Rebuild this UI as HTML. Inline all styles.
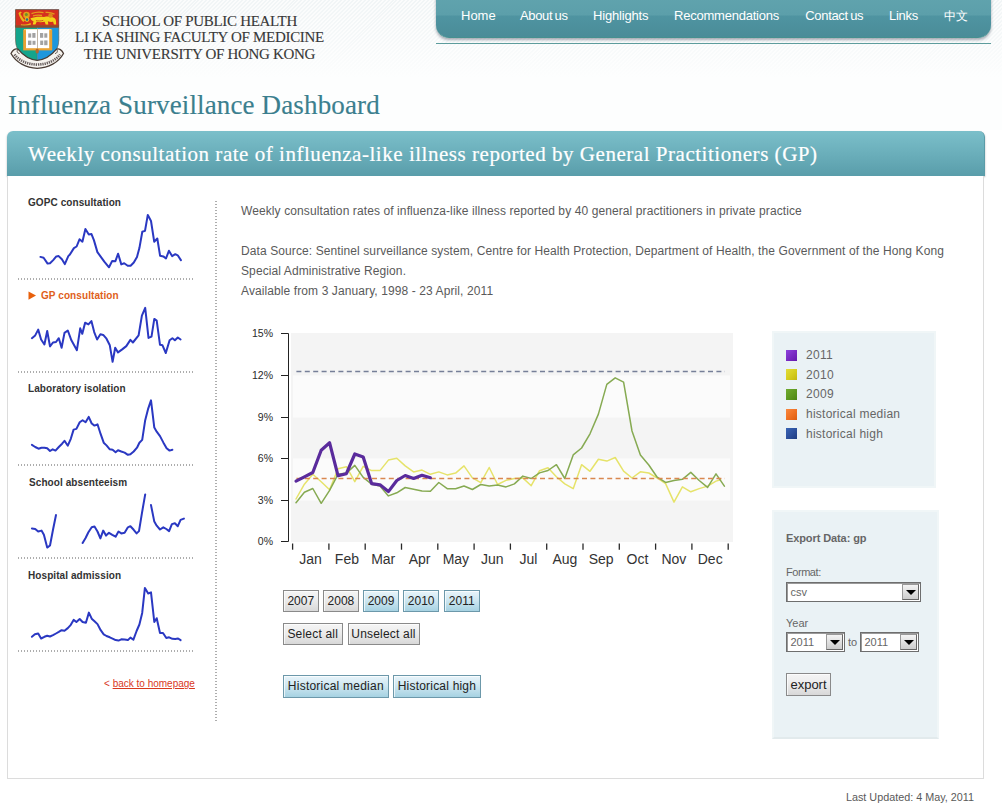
<!DOCTYPE html>
<html>
<head>
<meta charset="utf-8">
<title>Influenza Surveillance Dashboard</title>
<style>
*{box-sizing:border-box;margin:0;padding:0}
html,body{width:1002px;height:810px;overflow:hidden;background:#fff;font-family:"Liberation Sans",sans-serif;}
body{position:relative;}
.abs{position:absolute;white-space:nowrap;}
#bg{left:0;top:0;width:1002px;height:130px;background:
 linear-gradient(to bottom,rgba(255,255,255,0) 0,rgba(255,255,255,.35) 40px,rgba(253,254,254,1) 78px),
 repeating-linear-gradient(135deg,#f1f5f6 0,#f1f5f6 1.4px,#fbfcfc 1.4px,#fbfcfc 2.8px);}
.hdr{left:49.5px;width:300px;text-align:center;font-family:"Liberation Serif",serif;font-size:15px;color:#383838;line-height:17px;letter-spacing:-0.3px;-webkit-text-stroke:.12px #383838;}
#nav{left:436px;top:-10px;width:555px;height:48px;border-radius:0 0 13px 13px;
 background:linear-gradient(to bottom,#62a5af 0,#5c9faa 25px,#4f94a1 26px,#4a8c98 100%);
 box-shadow:0 2px 3px rgba(60,70,90,.45);border-bottom:1px solid #45908f;}
#navline{left:436px;top:43px;width:555px;height:1px;background:#5d9c9c;}
.nv{top:8px;font-size:13px;color:#fff;line-height:16px;}
#title{left:8px;top:88px;font-family:"Liberation Serif",serif;font-size:27px;color:#3b7f8e;line-height:34px;letter-spacing:.14px;-webkit-text-stroke:.15px #3b7f8e;}
#banner{left:7px;top:131px;width:977.5px;height:45.3px;border-radius:6px 6px 0 0;
 background:linear-gradient(to bottom,#7bbfca 0,#69adb9 55%,#599daa 100%);box-shadow:0 1px 2px rgba(0,0,0,.3);border-right:1px solid #5b9ca8;}
#banner span{position:absolute;left:21px;top:11px;font-family:"Liberation Serif",serif;font-size:21px;color:#fff;line-height:24px;white-space:nowrap;letter-spacing:.53px;-webkit-text-stroke:.2px #fff;}
#box{left:7px;top:176px;width:977px;height:602.5px;border:1px solid #dcdcdc;border-top:none;background:#fff;}
.sl{left:28px;font-size:10px;font-weight:bold;color:#333;line-height:12px;letter-spacing:.08px;margin-top:.4px}
.dot{left:18px;width:176px;height:2px;background:repeating-linear-gradient(to right,#adadad 0,#adadad 1px,transparent 1px,transparent 3px);}
#vdot{left:215px;top:201px;width:2px;height:520px;background:repeating-linear-gradient(to bottom,#adadad 0,#adadad 1px,transparent 1px,transparent 3px);}
.tx{left:241px;font-size:12px;color:#5a5a5a;line-height:20px;letter-spacing:.1px;}
.panel{background:#eaf2f5;border:2px solid #f0f6f7;}
.lg{left:806px;font-size:12px;color:#666;line-height:14px;}
.sw{left:786px;width:11px;height:11px;}
.btn{font-size:12px;color:#222;height:22px;line-height:20px;border:1px solid #8a8a8a;text-align:center;
 background:linear-gradient(to bottom,#f5f5f5 0,#ececec 45%,#d8d8d8 100%);box-shadow:inset 1px 1px 0 rgba(255,255,255,.7);}
.btn.on{background:linear-gradient(to bottom,#e8f4fa 0,#cfe7f1 45%,#a6d2e2 100%);border-color:#6c98aa;}
.ex{left:786px;font-size:11px;color:#666;line-height:13px;}
.sel{background:#fff;border:1px solid #6e6e6e;box-shadow:inset 1px 1px 0 #9a9a9a;font-size:11px;color:#666;line-height:18px;padding-left:3.5px;height:20px;}
.sel i{position:absolute;right:1px;top:1px;width:17px;height:16px;border:1px solid #666;border-left-color:#999;border-top-color:#999;background:linear-gradient(to bottom,#f4f4f4,#cdcdcd);}
.sel i:after{content:"";position:absolute;left:3px;top:5px;border-left:5px solid transparent;border-right:5px solid transparent;border-top:5px solid #000;}
</style>
</head>
<body>
<div id="bg" class="abs"></div>
<svg class="abs" style="left:5px;top:2px" width="65" height="72" viewBox="5 2 65 72">
<defs><clipPath id="shc"><path d="M15.5 9.6H58.8V40C58.8 52 50 59.5 37.2 64.2C24.4 59.5 15.5 52 15.5 40Z"/></clipPath></defs>
<g clip-path="url(#shc)">
<rect x="15" y="9" width="22.2" height="56" fill="#14a58c"/>
<rect x="37.2" y="9" width="22" height="56" fill="#1d97dd"/>
<rect x="15" y="9" width="44" height="18.3" fill="#d5301f"/>
<rect x="15" y="26.3" width="44" height="1.4" fill="#8a4a2a" opacity=".7"/>
<!-- lion -->
<path d="M18.500 13.500c.6-1.800 2.400-2.300 3.600-1.200c-.9.300-1.500 1-1.600 2c1.500 2 2.300 4.200 4.500 6.300l-1.800 1.400c-2.200-2.200-3.600-5-4.700-8.500z" fill="#e9b91c"/>
<circle cx="26.500" cy="15" r="3.300" fill="#e0a21a"/>
<circle cx="26.300" cy="14.600" r="1.500" fill="#6f8f2a"/>
<circle cx="27" cy="19.600" r="2.300" fill="#e8c21e"/>
<circle cx="27" cy="19.600" r="1.300" fill="#25708a"/>
<path d="M30.500 18.300c4-1.700 9-2 13.500-1.300c3.500-.8 7-.6 10 .7c1.400.7 2 2 2 3.800l.2 3h-2.300l-.8-2.700c-2 .3-3.700.1-5.200-.5l.4 3.200h-2.600l-1-2.800c-2.600.6-5.400.6-8 0l-1.300 2.800h-2.600l.7-3.300c-1.500-.5-2.800-1.500-3-2.900z" fill="#f3d31a"/>
<path d="M21 24.300c3 .6 6.500.2 9.500-1.300l.6 1.500c-3.300 1.400-7 1.800-10.300 1z" fill="#e9b91c"/>
<path d="M31.500 13.700c3.500-1.500 8-1.800 12-1.100M45.500 12.400c3.200-.3 6.400.3 9 1.700M33 15.800c3-.7 6-.8 9-.3" stroke="#e39a1c" stroke-width="1.300" fill="none"/>
<path d="M50.500 13.200a2.300 2.300 0 1 0 .1 0z" fill="#dc8a1c"/>
<path d="M36 20.600c2.500.6 5 .5 7.300-.3" stroke="#c8521c" stroke-width=".9" fill="none"/>
<rect x="15" y="25" width="44" height="2.400" fill="#7a5a2c" opacity=".55"/>
</g>
<path d="M15.500 9.600H58.800V40C58.800 52 50 59.500 37.200 64.200C24.400 59.500 15.500 52 15.500 40Z" fill="none" stroke="#5a4a3a" stroke-width=".7" opacity=".75"/>
<!-- book -->
<rect x="23.200" y="29.600" width="29" height="20.800" fill="#e9a233"/>
<rect x="24" y="29" width="27.400" height="1.200" fill="#f4c870"/>
<rect x="26" y="29.400" width="11.400" height="18.800" fill="#fff"/>
<rect x="37.800" y="29.400" width="11.400" height="18.800" fill="#fff"/>
<rect x="37.300" y="29.400" width=".7" height="19" fill="#a9a9a9"/>
<g fill="#666" opacity=".6">
<rect x="28.200" y="33.400" width="3" height="4.200"/><rect x="32.300" y="33" width="3.200" height="4.800"/>
<rect x="28" y="40.600" width="3.400" height="4.400"/><rect x="32.500" y="40.800" width="3" height="4"/>
<rect x="40" y="33" width="3.200" height="4.800"/><rect x="44.300" y="33.300" width="3" height="4.400"/>
<rect x="40.200" y="40.600" width="3" height="4.400"/><rect x="44.200" y="40.400" width="3.300" height="4.800"/>
</g>
<ellipse cx="37.200" cy="51" rx="1.700" ry="2.600" fill="#b5682a"/>
<rect x="36.900" y="53" width=".7" height="9" fill="#66584a" opacity=".6"/>
<!-- scroll -->
<path d="M11 53.500C12.500 50 15.500 48 18 49.200C24 56.500 31 60 37.200 60.300C43.500 60 50.500 56.500 56.500 49.200C59 48 62 50 63.500 53.500C58.500 62.500 48.500 68 37.200 68.300C26 68 16 62.500 11 53.500Z" fill="#f6f3ee" stroke="#4a3c34" stroke-width="1.300"/>
<path d="M14.500 54.500C19.500 61 27.500 64.300 37.200 64.600C47 64.300 55 61 60 54.500" fill="none" stroke="#4a4040" stroke-width="2.600" stroke-dasharray="1.300 .9" opacity=".85"/>
<path d="M18 49.200C16.500 51 17 53 19.500 53.600M56.500 49.200C58 51 57.500 53 55 53.600" fill="none" stroke="#4a3c34" stroke-width=".9"/>
</svg>

<div class="abs hdr" style="top:13px">SCHOOL OF PUBLIC HEALTH</div>
<div class="abs hdr" style="top:29.3px">LI KA SHING FACULTY OF MEDICINE</div>
<div class="abs hdr" style="top:46px">THE UNIVERSITY OF HONG KONG</div>

<div id="nav" class="abs"></div>
<div id="navline" class="abs"></div>
<div class="abs nv" style="left:461px">Home</div>
<div class="abs nv" style="left:520px;letter-spacing:-.35px;word-spacing:-.9px">About us</div>
<div class="abs nv" style="left:593px;letter-spacing:-.17px">Highlights</div>
<div class="abs nv" style="left:674px;letter-spacing:-.22px">Recommendations</div>
<div class="abs nv" style="left:805.3px;letter-spacing:-.33px;word-spacing:-.9px">Contact us</div>
<div class="abs nv" style="left:889px;letter-spacing:-.25px">Links</div>
<div class="abs nv" style="left:944.3px;font-size:12px;letter-spacing:-.6px;top:7.5px">中文</div>

<div id="title" class="abs">Influenza Surveillance Dashboard</div>
<div id="banner" class="abs"><span>Weekly consultation rate of influenza-like illness reported by General Practitioners (GP)</span></div>
<div id="box" class="abs"></div>

<div class="abs sl" style="top:197px">GOPC consultation</div>
<div class="abs dot" style="top:278px"></div>
<div class="abs sl" style="top:290px;left:41px;color:#e0601a">GP consultation</div>
<div class="abs dot" style="top:371px"></div>
<div class="abs sl" style="top:383px">Laboratory isolation</div>
<div class="abs dot" style="top:464px"></div>
<div class="abs sl" style="top:477px;left:29px">School absenteeism</div>
<div class="abs dot" style="top:557px"></div>
<div class="abs sl" style="top:570px">Hospital admission</div>
<div class="abs dot" style="top:650px"></div>
<div class="abs" style="left:104px;top:678px;font-size:10px;color:#d9381e;line-height:12px">&lt; <span style="text-decoration:underline">back to homepage</span></div>
<div id="vdot" class="abs"></div>

<div class="abs tx" style="top:201px">Weekly consultation rates of influenza-like illness reported by 40 general practitioners in private practice</div>
<div class="abs tx" style="top:241px">Data Source: Sentinel surveillance system, Centre for Health Protection, Department of Health, the Government of the Hong Kong</div>
<div class="abs tx" style="top:261px">Special Administrative Region.</div>
<div class="abs tx" style="top:281px">Available from 3 January, 1998 - 23 April, 2011</div>

<svg class="abs" style="left:0;top:0" width="1002" height="810" viewBox="0 0 1002 810" font-family="Liberation Sans, sans-serif">
<path d="M28.5 291.5V299.7L36 295.6Z" fill="#e8600c"/>
<polyline points="40.4,256.9 43.6,257.7 47.6,263.6 50.0,263.3 53.2,260.1 56.3,256.4 58.7,256.1 61.9,259.3 64.8,264.1 68.3,256.1 69.9,254.5 73.9,248.1 76.6,246.5 79.5,239.3 82.4,241.7 85.4,229.0 88.8,234.5 91.5,234.1 93.9,240.1 97.4,252.1 100.3,256.1 104.3,261.7 109.0,267.3 112.2,260.9 115.4,261.2 118.1,253.7 121.3,264.4 124.2,263.3 127.7,265.7 130.6,265.7 133.8,262.5 137.0,256.9 139.4,248.1 142.3,231.8 145.0,230.9 147.8,214.9 151.0,221.0 154.2,241.7 157.3,238.5 160.1,255.8 163.3,256.4 166.0,258.5 168.9,250.8 172.1,256.1 175.3,254.2 177.7,255.3 180.9,260.1" fill="none" stroke="#2a38c2" stroke-width="2.0" stroke-linejoin="round" stroke-linecap="round" />
<polyline points="31.9,338.2 35.2,335.4 38.2,329.6 41.1,339.5 44.4,344.5 47.2,331.0 50.0,346.4 53.0,342.5 56.0,342.0 58.8,338.2 61.6,347.8 64.5,332.9 67.8,330.5 71.4,340.3 76.9,350.2 80.2,328.3 82.3,333.8 85.1,322.7 88.4,324.4 91.4,321.1 94.2,332.1 97.1,339.5 100.4,334.3 103.2,334.9 106.5,338.7 109.8,345.3 112.6,361.8 115.2,347.8 118.0,352.4 122.2,349.4 126.3,346.1 130.4,339.9 132.9,342.5 138.6,335.4 141.9,315.6 145.2,307.9 148.5,337.9 151.5,336.6 154.3,318.9 156.7,320.6 160.0,344.8 162.5,345.3 165.8,353.0 169.6,340.3 172.4,338.2 174.9,340.3 177.8,337.5 180.6,339.5" fill="none" stroke="#2a38c2" stroke-width="2.0" stroke-linejoin="round" stroke-linecap="round" />
<polyline points="31.9,444.9 35.2,447.0 38.5,448.7 41.5,447.8 44.4,447.7 47.2,448.3 50.0,451.0 52.7,449.3 55.5,450.6 58.8,447.0 62.1,443.7 64.5,440.8 67.8,445.7 70.8,438.8 73.6,429.6 76.4,428.9 79.7,422.3 82.6,420.2 85.6,422.3 88.7,416.9 91.7,423.5 94.5,425.6 97.5,424.3 100.7,434.2 103.7,442.7 106.5,445.4 109.8,449.3 112.6,449.8 115.6,452.3 118.0,450.3 121.3,451.5 124.6,452.6 127.9,454.8 130.4,454.3 133.7,451.5 137.0,447.7 139.4,442.7 142.2,439.9 145.2,420.2 148.2,408.6 151.0,400.4 154.3,427.6 156.7,431.7 160.0,436.1 163.3,442.4 166.6,448.2 169.6,450.6 172.4,449.8" fill="none" stroke="#2a38c2" stroke-width="2.0" stroke-linejoin="round" stroke-linecap="round" />
<polyline points="31.9,528.5 35.2,529.0 38.2,531.5 41.5,530.6 43.9,534.8 47.2,547.6 50.0,545.5 53.0,529.8 56.0,515.0" fill="none" stroke="#2a38c2" stroke-width="2.0" stroke-linejoin="round" stroke-linecap="round" />
<polyline points="82.6,543.0 85.6,538.0 88.4,532.3 91.7,527.3 94.5,526.5 97.5,531.5 100.4,538.4 103.2,530.6 106.0,535.6 109.0,532.8 112.3,534.8 115.6,536.7 118.5,531.5 121.3,533.4 124.6,532.8 127.9,527.3 130.4,526.2 133.7,529.8 136.6,533.4 139.0,531.1 141.9,513.3 145.2,494.4" fill="none" stroke="#2a38c2" stroke-width="2.0" stroke-linejoin="round" stroke-linecap="round" />
<polyline points="151.0,505.1 154.3,521.6 156.7,525.7 160.0,529.5 163.3,527.3 166.3,529.0 169.1,531.1 171.9,524.1 174.9,523.2 177.8,526.2 180.6,519.9 183.9,518.6" fill="none" stroke="#2a38c2" stroke-width="2.0" stroke-linejoin="round" stroke-linecap="round" />
<polyline points="31.9,636.8 34.9,634.3 38.2,633.5 41.1,638.5 44.4,636.8 47.2,635.7 50.0,636.5 53.0,635.2 56.0,633.5 58.8,631.9 61.6,630.2 64.5,630.7 67.8,628.1 70.8,624.8 73.6,619.9 76.4,622.0 79.7,619.0 82.6,622.0 85.9,622.8 88.9,612.6 91.7,618.7 94.5,621.2 97.5,624.1 100.7,630.2 103.7,634.3 106.5,636.0 109.8,637.3 113.1,638.8 115.6,640.1 118.5,640.6 121.3,639.3 124.6,639.6 127.9,640.1 130.4,637.6 133.4,639.6 136.6,631.0 139.4,624.5 142.2,612.9 144.9,587.9 148.2,593.5 151.0,592.4 154.3,622.0 156.7,618.2 160.0,633.0 163.0,633.0 166.3,638.0 169.1,637.3 172.4,638.8 175.2,639.0 178.1,638.5 180.6,640.1" fill="none" stroke="#2a38c2" stroke-width="2.0" stroke-linejoin="round" stroke-linecap="round" />
<rect x="291" y="333" width="442" height="209" fill="#f4f4f4"/><rect x="293" y="458.5" width="437" height="42.0" fill="#fbfbfb"/><rect x="293" y="375.5" width="437" height="42.0" fill="#fbfbfb"/>
<path d="M281 333.5H288.5V541.5H281" fill="none" stroke="#222" stroke-width="1"/><path d="M281 500.5H288.5" stroke="#222" stroke-width="1"/><path d="M281 458.5H288.5" stroke="#222" stroke-width="1"/><path d="M281 417.5H288.5" stroke="#222" stroke-width="1"/><path d="M281 375.5H288.5" stroke="#222" stroke-width="1"/>
<text x="273" y="545.2" text-anchor="end" font-size="10.5" fill="#2a2a2a">0%</text><text x="273" y="504.2" text-anchor="end" font-size="10.5" fill="#2a2a2a">3%</text><text x="273" y="462.2" text-anchor="end" font-size="10.5" fill="#2a2a2a">6%</text><text x="273" y="421.2" text-anchor="end" font-size="10.5" fill="#2a2a2a">9%</text><text x="273" y="379.2" text-anchor="end" font-size="10.5" fill="#2a2a2a">12%</text><text x="273" y="337.2" text-anchor="end" font-size="10.5" fill="#2a2a2a">15%</text>
<path d="M292.6 543.5V549.7" stroke="#2a2a2a" stroke-width="1.3"/><path d="M328.9 543.5V549.7" stroke="#2a2a2a" stroke-width="1.3"/><path d="M365.2 543.5V549.7" stroke="#2a2a2a" stroke-width="1.3"/><path d="M401.5 543.5V549.7" stroke="#2a2a2a" stroke-width="1.3"/><path d="M437.8 543.5V549.7" stroke="#2a2a2a" stroke-width="1.3"/><path d="M474.1 543.5V549.7" stroke="#2a2a2a" stroke-width="1.3"/><path d="M510.4 543.5V549.7" stroke="#2a2a2a" stroke-width="1.3"/><path d="M546.7 543.5V549.7" stroke="#2a2a2a" stroke-width="1.3"/><path d="M583.0 543.5V549.7" stroke="#2a2a2a" stroke-width="1.3"/><path d="M619.3 543.5V549.7" stroke="#2a2a2a" stroke-width="1.3"/><path d="M655.6 543.5V549.7" stroke="#2a2a2a" stroke-width="1.3"/><path d="M691.9 543.5V549.7" stroke="#2a2a2a" stroke-width="1.3"/><path d="M728.2 543.5V549.7" stroke="#2a2a2a" stroke-width="1.3"/><text x="310.6" y="563.5" text-anchor="middle" font-size="14" fill="#333">Jan</text><text x="346.9" y="563.5" text-anchor="middle" font-size="14" fill="#333">Feb</text><text x="383.2" y="563.5" text-anchor="middle" font-size="14" fill="#333">Mar</text><text x="419.6" y="563.5" text-anchor="middle" font-size="14" fill="#333">Apr</text><text x="455.9" y="563.5" text-anchor="middle" font-size="14" fill="#333">May</text><text x="492.2" y="563.5" text-anchor="middle" font-size="14" fill="#333">Jun</text><text x="528.5" y="563.5" text-anchor="middle" font-size="14" fill="#333">Jul</text><text x="564.9" y="563.5" text-anchor="middle" font-size="14" fill="#333">Aug</text><text x="601.2" y="563.5" text-anchor="middle" font-size="14" fill="#333">Sep</text><text x="637.5" y="563.5" text-anchor="middle" font-size="14" fill="#333">Oct</text><text x="673.9" y="563.5" text-anchor="middle" font-size="14" fill="#333">Nov</text><text x="710.2" y="563.5" text-anchor="middle" font-size="14" fill="#333">Dec</text>
<polyline points="296.0,499 304.4,484.2 312.8,474.3 321.2,481.7 329.6,489.8 338.0,468.8 346.4,466.7 354.8,481.7 363.2,466.3 371.6,470.6 380.0,470.6 388.4,460.1 396.8,458.3 405.2,465.9 413.6,471.9 422.0,470.1 430.4,474.3 438.8,471.9 447.2,474.9 455.6,473.1 464.0,465.9 472.4,477.9 480.8,482.7 489.2,467.5 497.6,484.5 506.0,480.3 514.4,478.5 522.8,477.9 531.2,485.7 539.6,470.7 548.0,467.7 556.4,476.7 564.8,483.9 573.2,488.7 581.6,464.7 590.0,471.3 598.4,459.2 606.8,461.1 615.2,457.5 623.6,471.2 632.0,478 640.4,471.8 648.8,473 657.2,478 665.6,483.6 674.0,502.1 682.4,486.8 690.8,491.8 699.2,488.6 707.6,486.1 716.0,481.1 720.5,479.8" fill="none" stroke="#e6e36a" stroke-width="1.5" stroke-linejoin="round" stroke-linecap="round" />
<polyline points="296.0,502.7 304.4,492.2 312.8,488.5 321.2,503.3 329.6,490.4 338.0,474.3 346.4,473.1 354.8,465.4 363.2,477.4 371.6,484.2 380.0,486 388.4,495.9 396.8,492.8 405.2,487.5 413.6,489.3 422.0,491.1 430.4,491.3 438.8,482.5 447.2,488.7 455.6,488.7 464.0,486 472.4,489.5 480.8,484.5 489.2,486 497.6,484.9 506.0,486.9 514.4,483.9 522.8,476.1 531.2,478.5 539.6,472.9 548.0,470.5 556.4,464.7 564.8,478.5 573.2,454.9 581.6,448 590.0,433.8 598.4,414.1 606.8,384.4 615.2,377.8 623.6,382.2 632.0,431 640.4,454.9 648.8,465 657.2,477.2 665.6,482.4 674.0,480.5 682.4,479.3 690.8,472.4 699.2,480.5 707.6,487.4 716.0,473.9 724.4,486.1" fill="none" stroke="#86aa52" stroke-width="1.5" stroke-linejoin="round" stroke-linecap="round" />
<path d="M296.4 371.5H725" stroke="#767f98" stroke-width="1.4" stroke-dasharray="5 3.4"/>
<path d="M296.4 478.5H725" stroke="#d98850" stroke-width="1.3" stroke-dasharray="5 3.4"/>
<polyline points="296.0,481.1 304.4,476.8 312.8,472.5 321.2,450.2 329.6,442.8 338.0,475.6 346.4,473.7 354.8,454 363.2,457 371.6,483.6 380.0,484.8 388.4,491.6 396.8,480.5 405.2,475.5 413.6,478.5 422.0,475.3 430.4,477.7" fill="none" stroke="#5a2b9c" stroke-width="3.2" stroke-linejoin="round" stroke-linecap="round" />
</svg>

<div class="abs btn" style="left:283px;top:590px;width:35.5px;">2007</div>
<div class="abs btn" style="left:323.2px;top:590px;width:35.5px;">2008</div>
<div class="abs btn on" style="left:363.3px;top:590px;width:35.5px;">2009</div>
<div class="abs btn on" style="left:403.4px;top:590px;width:35.5px;">2010</div>
<div class="abs btn on" style="left:444px;top:590px;width:35.5px;">2011</div>
<div class="abs btn" style="left:283px;top:623px;width:59.5px;letter-spacing:0.2px;">Select all</div>
<div class="abs btn" style="left:347.5px;top:623px;width:72px;letter-spacing:0.2px;">Unselect all</div>
<div class="abs btn on" style="left:283px;top:675px;width:105.7px;letter-spacing:0.23px;height:23px;line-height:21px;">Historical median</div>
<div class="abs btn on" style="left:393.2px;top:675px;width:87.5px;letter-spacing:0.2px;height:23px;line-height:21px;">Historical high</div>

<div class="abs panel" style="left:772px;top:331px;width:164px;height:156.5px"></div>
<div class="abs sw" style="top:349.6px;background:linear-gradient(135deg,#8e44dd,#7a2cc4 50%,#6419ac)"></div><div class="abs lg" style="top:347.8px;letter-spacing:.3px;">2011</div>
<div class="abs sw" style="top:369.3px;background:linear-gradient(135deg,#e2dc3a,#d6cf20 50%,#c4b810)"></div><div class="abs lg" style="top:367.5px;letter-spacing:.3px;">2010</div>
<div class="abs sw" style="top:389.0px;background:linear-gradient(135deg,#70aa30,#5f9a20 50%,#4c8414)"></div><div class="abs lg" style="top:387.2px;letter-spacing:.3px;">2009</div>
<div class="abs sw" style="top:408.7px;background:linear-gradient(135deg,#f88840,#f07224 50%,#dc5c10)"></div><div class="abs lg" style="top:406.9px;letter-spacing:.25px;">historical median</div>
<div class="abs sw" style="top:428.4px;background:linear-gradient(135deg,#3a64b4,#2d519d 50%,#1e3c80)"></div><div class="abs lg" style="top:426.6px;letter-spacing:.25px;">historical high</div>

<div class="abs panel" style="left:772px;top:509.5px;width:167px;height:229.5px;border-bottom-color:#e2eaec"></div>
<div class="abs ex" style="top:532px;font-weight:bold;letter-spacing:-.1px">Export Data: gp</div>
<div class="abs ex" style="top:566.2px;letter-spacing:-.45px">Format:</div>
<div class="abs sel" style="left:786px;top:582px;width:135px">csv<i></i></div>
<div class="abs ex" style="top:616.5px">Year</div>
<div class="abs sel" style="left:786px;top:632px;width:59px">2011<i></i></div>
<div class="abs ex" style="left:848px;top:636px">to</div>
<div class="abs sel" style="left:860px;top:632px;width:59px">2011<i></i></div>
<div class="abs btn" style="left:786px;top:673.3px;width:45px;height:22.5px;font-size:13px;line-height:21.5px">export</div>

<div class="abs" style="right:28px;top:791px;font-size:10.8px;color:#595959;line-height:13px">Last Updated: 4 May, 2011</div>
</body>
</html>
